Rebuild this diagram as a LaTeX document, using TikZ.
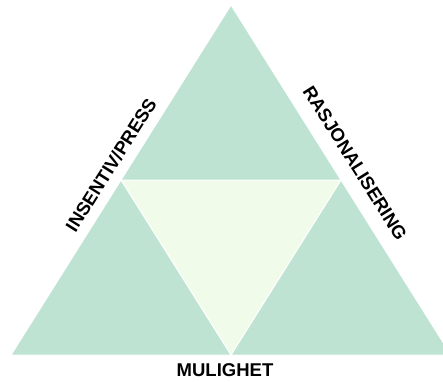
\documentclass[tikz,border=0pt]{standalone}
\usepackage{fontspec}
\setmainfont{Liberation Sans}
\definecolor{tgreen}{HTML}{BEE3D3}
\definecolor{tlight}{HTML}{F0FBEA}
\tikzset{
  part/.style={fill=tgreen, draw=white, line width=1pt, line join=miter},
  core/.style={fill=tlight, draw=white, line width=1pt},
  lbl/.style={font=\fontsize{18.5}{22}\selectfont\bfseries, inner sep=0pt, text=black}
}
\begin{document}
\begin{tikzpicture}[x=1pt,y=-1pt]
\useasboundingbox (0,0) rectangle (443,381);
\clip (0,0) rectangle (443,381);
\coordinate (A) at (231,5);
\coordinate (BL) at (11,355);
\coordinate (BR) at (451,355);
\coordinate (ML) at (121,180);
\coordinate (MR) at (341,180);
\coordinate (MB) at (231,355);
\fill[part] (A) -- (ML) -- (MR) -- cycle;
\fill[part] (ML) -- (BL) -- (MB) -- cycle;
\fill[part] (MR) -- (MB) -- (BR) -- cycle;
\filldraw[core] (ML) -- (MR) -- (MB) -- cycle;
\draw[part] (A) -- (ML) -- (MR) -- cycle;
\draw[part] (ML) -- (BL) -- (MB) -- cycle;
\draw[part] (MR) -- (MB) -- (BR) -- cycle;
\node[lbl, rotate=57.8] (press) at (111,165) {INSENTIV/PRESS};
\node[lbl, rotate=-57.8] (rasj) at (355,163) {RASJONALISERING};
\node[lbl] (mul) at (225,370) {MULIGHET};
\end{tikzpicture}
\end{document}
